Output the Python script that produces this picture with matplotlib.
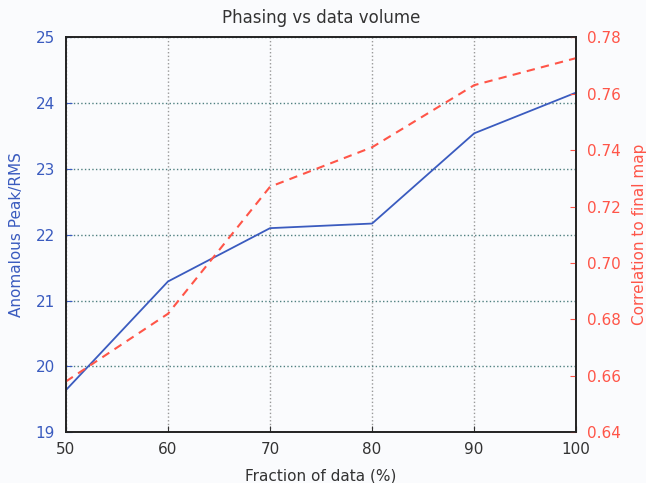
import numpy as np
import matplotlib.pyplot as plt

fraction = [50, 60, 70, 80, 90, 100]
peak_rms = [19.64, 21.29, 22.10, 22.17, 23.54, 24.16]
correlation = [0.658, 0.682, 0.727, 0.741, 0.763, 0.7726]

blue = '#3a5bbf'
red = '#ff5548'
bg = '#fafbfd'

fig = plt.figure(figsize=(6.46, 4.83), dpi=100, facecolor=bg)
ax1 = fig.add_axes([0.102, 0.105, 0.790, 0.818])
ax1.set_facecolor(bg)
ax1.plot(fraction, peak_rms, color=blue, lw=1.3)
ax1.set_xlim(50, 100)
ax1.set_ylim(19, 25)
ax1.set_xticks(fraction)
ax1.set_yticks(range(19, 26))
ax1.set_xlabel('Fraction of data (%)', fontsize=11, color='#333333', labelpad=8)
ax1.set_ylabel('Anomalous Peak/RMS', fontsize=11, color=blue, labelpad=8)
ax1.tick_params(axis='y', colors=blue, labelsize=11, direction='in', length=4, pad=8)
ax1.tick_params(axis='x', colors='#333333', labelsize=11, direction='in', length=4, pad=7)
for lab in ax1.get_xticklabels():
    lab.set_color('#333333')
ax1.xaxis.grid(True, linestyle=':', color='#999999', lw=1)
ax1.yaxis.grid(True, linestyle=':', color='#4f8080', lw=1)
ax1.set_title('Phasing vs data volume', fontsize=12, color='#333333', pad=10)
for s in ax1.spines.values():
    s.set_color('#222222')
    s.set_linewidth(1.2)

ax2 = ax1.twinx()
ax2.plot(fraction, correlation, color=red, lw=1.5, ls='--', dashes=(4, 3))
ax2.set_ylim(0.64, 0.78)
ax2.set_yticks(np.arange(0.64, 0.7801, 0.02))
ax2.set_yticklabels(['%.2f' % v for v in np.arange(0.64, 0.7801, 0.02)])
ax2.tick_params(axis='y', colors=red, labelsize=11, direction='in', length=4, pad=8)
ax2.set_ylabel('Correlation to final map', fontsize=11, color=red, labelpad=8)
for s in ax2.spines.values():
    s.set_color('#222222')
    s.set_linewidth(1.2)

fig.savefig('out.png', dpi=100, facecolor=bg)
